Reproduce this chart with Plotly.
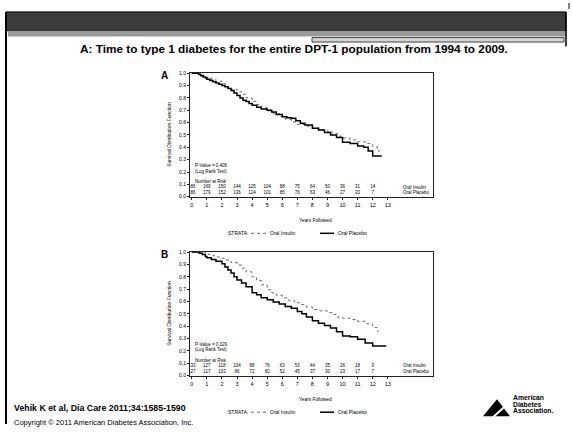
import plotly.graph_objects as go

# ---------------- data ----------------
years_ticks = list(range(0, 14))
surv_ticks = [round(i * 0.1, 1) for i in range(0, 11)]

# Panel A: entire DPT-1 population
a_ins_t = [0, 0.6, 0.8, 1.0, 1.3, 1.6, 2.0, 2.3, 2.6, 3.0, 3.3, 3.6, 4.0, 4.3, 4.6, 5.0, 5.4, 5.8,
           6.2, 6.6, 7.0, 7.5, 8.0, 8.5, 9.0, 9.3, 9.7, 10.0, 10.5, 11.0, 11.5, 12.0, 12.3, 12.5]
a_ins_s = [1.0, 0.985, 0.975, 0.965, 0.95, 0.935, 0.915, 0.89, 0.87, 0.85, 0.83, 0.80, 0.77, 0.745,
           0.72, 0.695, 0.675, 0.65, 0.625, 0.605, 0.585, 0.57, 0.555, 0.54, 0.53, 0.51, 0.49, 0.475,
           0.46, 0.445, 0.43, 0.405, 0.37, 0.37]
a_pla_t = [0, 0.45, 0.6, 0.75, 0.9, 1.0, 1.2, 1.4, 1.6, 1.8, 2.0, 2.2, 2.4, 2.6, 2.8, 3.0, 3.2, 3.4,
           3.6, 3.8, 4.0, 4.3, 4.6, 5.0, 5.3, 5.6, 6.0, 6.3, 6.6, 6.9, 7.2, 7.5, 8.0, 8.4, 8.8, 9.2,
           9.6, 10.0, 10.5, 11.0, 11.4, 11.7, 12.0, 12.6]
a_pla_s = [1.0, 0.99, 0.98, 0.97, 0.96, 0.95, 0.94, 0.93, 0.92, 0.91, 0.90, 0.89, 0.875, 0.86, 0.84,
           0.82, 0.80, 0.78, 0.77, 0.755, 0.74, 0.725, 0.71, 0.70, 0.685, 0.665, 0.648, 0.64, 0.635,
           0.615, 0.595, 0.58, 0.555, 0.54, 0.52, 0.50, 0.48, 0.44, 0.43, 0.41, 0.40, 0.37, 0.33, 0.33]
a_risk_ins = [186, 169, 150, 144, 125, 104, 88, 75, 64, 50, 36, 31, 14]
a_risk_pla = [186, 179, 152, 136, 124, 101, 85, 76, 63, 46, 27, 20, 7]
a_pvalue = "P-Value = 0.406"

# Panel B
b_ins_t = [0, 0.9, 1.1, 1.4, 1.7, 2.0, 2.3, 2.6, 3.0, 3.3, 3.6, 4.0, 4.3, 4.6, 5.0, 5.3, 5.6, 6.0,
           6.4, 6.8, 7.2, 7.6, 8.0, 8.5, 9.0, 9.4, 9.7, 10.0, 10.5, 11.0, 11.5, 12.0, 12.3, 12.4]
b_ins_s = [1.0, 0.99, 0.98, 0.97, 0.96, 0.95, 0.935, 0.915, 0.895, 0.87, 0.84, 0.80, 0.77, 0.735,
           0.695, 0.67, 0.65, 0.63, 0.61, 0.59, 0.575, 0.555, 0.535, 0.525, 0.51, 0.495, 0.47, 0.465,
           0.455, 0.44, 0.42, 0.39, 0.36, 0.36]
b_pla_t = [0, 0.5, 0.7, 0.9, 1.0, 1.3, 1.6, 2.0, 2.2, 2.4, 2.6, 2.8, 3.0, 3.3, 3.6, 4.0, 4.3, 4.6,
           5.0, 5.4, 5.8, 6.2, 6.6, 7.0, 7.3, 7.6, 8.0, 8.4, 8.8, 9.2, 9.6, 10.0, 10.5, 11.0, 11.5,
           12.0, 12.9]
b_pla_s = [1.0, 0.99, 0.98, 0.965, 0.955, 0.94, 0.925, 0.905, 0.88, 0.855, 0.83, 0.80, 0.775, 0.75,
           0.72, 0.67, 0.655, 0.63, 0.615, 0.595, 0.58, 0.56, 0.545, 0.52, 0.50, 0.475, 0.445, 0.425,
           0.405, 0.385, 0.355, 0.32, 0.315, 0.295, 0.265, 0.24, 0.24]
b_risk_ins = [133, 127, 118, 104, 88, 76, 63, 53, 44, 35, 26, 18, 9]
b_risk_pla = [127, 117, 103, 86, 72, 60, 52, 45, 37, 30, 23, 17, 7]
b_pvalue = "P-Value = 0.029"

group_names = ["Oral Insulin", "Oral Placebo"]
title_text = "A: Time to type 1 diabetes for the entire DPT-1 population from 1994 to 2009."

# ---------------- layout helpers ----------------
W, H = 572, 432
FONT = "Liberation Sans, Arial, sans-serif"


def px(x):
    return x / W


def py(y):
    return 1 - y / H


def note(x, y, text, size, xanchor="left", **kw):
    d = dict(x=px(x), y=py(y), xref="paper", yref="paper", text=text, showarrow=False,
             xanchor=xanchor, yanchor="middle", font=dict(size=size, family=FONT, color="black"))
    d.update(kw)
    return d


fig = go.Figure()

panels = [
    dict(xa="x", ya="y", top=70.5, bot=196.5, label="A",
         ins=(a_ins_t, a_ins_s), pla=(a_pla_t, a_pla_s),
         risk=(a_risk_ins, a_risk_pla), p=a_pvalue, xt=220, lg=233),
    dict(xa="x2", ya="y2", top=251.5, bot=377.5, label="B",
         ins=(b_ins_t, b_ins_s), pla=(b_pla_t, b_pla_s),
         risk=(b_risk_ins, b_risk_pla), p=b_pvalue, xt=401, lg=414),
]

annotations = []
shapes = []
SMALL = dict(size=4.5, family=FONT, color="black")

for i, pn in enumerate(panels):
    xa, ya = pn["xa"], pn["ya"]
    fig.add_trace(go.Scatter(x=pn["ins"][0], y=pn["ins"][1], mode="lines", line_shape="hv",
                             line=dict(color="#6a6a6a", width=1, dash="dot"),
                             xaxis=xa, yaxis=ya, showlegend=False, name=group_names[0]))
    fig.add_trace(go.Scatter(x=pn["pla"][0], y=pn["pla"][1], mode="lines", line_shape="hv",
                             line=dict(color="black", width=1.5),
                             xaxis=xa, yaxis=ya, showlegend=False, name=group_names[1]))
    # number at risk rows
    fig.add_trace(go.Scatter(x=years_ticks[:13], y=[0.078] * 13, mode="text",
                             text=[str(v) for v in pn["risk"][0]], textfont=SMALL,
                             xaxis=xa, yaxis=ya, showlegend=False, hoverinfo="skip"))
    fig.add_trace(go.Scatter(x=years_ticks[:13], y=[0.034] * 13, mode="text",
                             text=[str(v) for v in pn["risk"][1]], textfont=SMALL,
                             xaxis=xa, yaxis=ya, showlegend=False, hoverinfo="skip"))
    for yy, txt in [(0.078, group_names[0]), (0.034, group_names[1])]:
        annotations.append(dict(x=13.9, y=yy, xref=xa, yref=ya, text=txt, showarrow=False,
                                xanchor="left", yanchor="middle", font=SMALL))
    annotations.append(dict(x=0.05, y=0.122, xref=xa, yref=ya, text="Number at Risk", showarrow=False,
                            xanchor="left", yanchor="middle", font=SMALL))
    annotations.append(dict(x=0.05, y=0.252, xref=xa, yref=ya, text=pn["p"], showarrow=False,
                            xanchor="left", yanchor="middle", font=SMALL))
    annotations.append(dict(x=0.05, y=0.208, xref=xa, yref=ya, text="(Log Rank Test)", showarrow=False,
                            xanchor="left", yanchor="middle", font=SMALL))
    # panel letter
    annotations.append(note(164, pn["top"] + 3, "<b>%s</b>" % pn["label"], 10, xanchor="center"))
    # y axis title
    annotations.append(note(169, (pn["top"] + pn["bot"]) / 2, "Survival Distribution Function", 5,
                            xanchor="center", textangle=-90))
    # x axis title
    annotations.append(note(315, pn["xt"], "Years Followed", 4.8, xanchor="center"))
    # strata legend
    lg = pn["lg"]
    annotations.append(note(226, lg, "STRATA:", 5))
    shapes.append(dict(type="line", xref="paper", yref="paper", x0=px(251), x1=px(266),
                       y0=py(lg), y1=py(lg), line=dict(color="#6a6a6a", width=1, dash="dot")))
    annotations.append(note(268, lg, group_names[0], 5))
    shapes.append(dict(type="line", xref="paper", yref="paper", x0=px(320), x1=px(334),
                       y0=py(lg), y1=py(lg), line=dict(color="black", width=1.5)))
    annotations.append(note(336, lg, group_names[1], 5))

axis_common_x = dict(range=[-0.12, 16.0], tickvals=years_ticks, ticktext=[str(v) for v in years_ticks],
                     showgrid=False, zeroline=False, showline=True, mirror=True, linecolor="#222",
                     linewidth=1, ticks="outside", ticklen=2, tickcolor="#222",
                     tickfont=dict(size=5.5, family=FONT, color="black"))
axis_common_y = dict(range=[-0.004, 1.004], tickvals=surv_ticks, ticktext=["%.1f" % v for v in surv_ticks],
                     showgrid=False, zeroline=False, showline=True, mirror=True, linecolor="#222",
                     linewidth=1, ticks="outside", ticklen=2, tickcolor="#222",
                     tickfont=dict(size=5, family=FONT, color="black"))

xd = [px(190), px(433)]
fig.update_layout(
    xaxis=dict(domain=xd, anchor="y", **axis_common_x),
    yaxis=dict(domain=[py(196.5), py(70.5)], anchor="x", **axis_common_y),
    xaxis2=dict(domain=xd, anchor="y2", **axis_common_x),
    yaxis2=dict(domain=[py(377.5), py(251.5)], anchor="x2", **axis_common_y),
)

# title
annotations.append(note(294, 46.5, "<b>%s</b>" % title_text, 11.8, xanchor="center"))
# footer
annotations.append(note(12, 410, "<b>Vehik K et al, Dia Care 2011;34:1585-1590</b>", 8.8))
annotations.append(note(12, 424, "Copyright \u00a9 2011 American Diabetes Association, Inc.", 7.5))
# logo text
for yy, t in [(399.5, "American"), (406, "Diabetes"), (412.5, "Association.")]:
    annotations.append(note(511, yy, "<b>%s</b>" % t, 6.8))

# banner / frame decorations
shapes += [
    dict(type="rect", xref="paper", yref="paper", x0=px(6), x1=px(566), y0=py(28), y1=py(9),
         fillcolor="#3c3c3c", line=dict(color="black", width=1), layer="below"),
    dict(type="rect", xref="paper", yref="paper", x0=px(8), x1=px(566), y0=py(34), y1=py(28),
         fillcolor="#9a9a9a", line=dict(width=0), layer="below"),
    dict(type="rect", xref="paper", yref="paper", x0=px(312), x1=px(564), y0=py(39.5), y1=py(35),
         fillcolor="#d4d4d4", line=dict(color="#444", width=1), layer="below"),
    dict(type="line", xref="paper", yref="paper", x0=px(6), x1=px(6), y0=py(9), y1=py(426),
         line=dict(color="black", width=2)),
    dict(type="line", xref="paper", yref="paper", x0=px(566), x1=px(566), y0=py(9), y1=py(44),
         line=dict(color="black", width=1.5)),
    dict(type="line", xref="paper", yref="paper", x0=px(569), x1=px(569), y0=py(0), y1=py(6),
         line=dict(color="black", width=1)),
    # logo triangle
    dict(type="path", xref="paper", yref="paper",
         path="M %f,%f L %f,%f L %f,%f Z" % (px(483), py(418), px(497), py(401), px(510), py(418)),
         fillcolor="black", line=dict(width=0)),
    dict(type="line", xref="paper", yref="paper", x0=px(493), x1=px(505), y0=py(419), y1=py(408),
         line=dict(color="white", width=2)),
]

fig.update_layout(
    width=W, height=H, margin=dict(l=0, r=0, t=0, b=0),
    paper_bgcolor="white", plot_bgcolor="white",
    showlegend=False, annotations=annotations, shapes=shapes,
    font=dict(family=FONT, color="black"),
)

fig.write_html("out.html", config={"displayModeBar": False},
               post_script="document.body.style.margin='0';document.body.style.overflow='hidden';")
